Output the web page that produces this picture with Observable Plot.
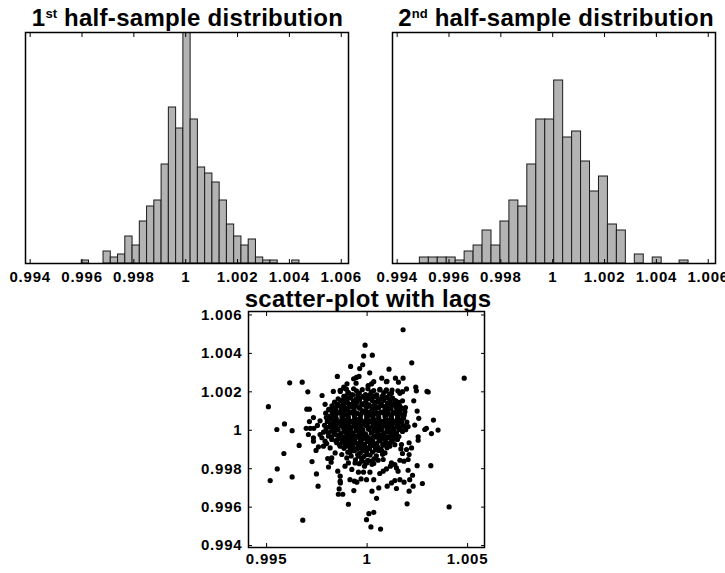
<!DOCTYPE html>
<html><head><meta charset="utf-8">
<script src="https://cdn.jsdelivr.net/npm/d3@7"></script>
<script src="https://cdn.jsdelivr.net/npm/@observablehq/plot@0.6"></script>
<style>
html,body{margin:0;padding:0;background:#fff;overflow:hidden;}
#chart{position:relative;width:725px;height:573px;font-family:"Liberation Sans",Arial,sans-serif;}
.panel{position:absolute;}
.panel svg{max-width:none !important;overflow:visible;background:transparent !important;}
.title{position:absolute;font-weight:bold;font-size:24px;line-height:24px;letter-spacing:0.3px;text-align:center;white-space:nowrap;color:#000;}
.title sup{font-size:13px;line-height:0;vertical-align:8px;letter-spacing:0;}
</style></head><body><div id="chart"></div>
<script>
// ---- data ----
const histTicks = [0.994, 0.996, 0.998, 1, 1.002, 1.004, 1.006];
const histTickLabels = ["0.994", "0.996", "0.998", "1", "1.002", "1.004", "1.006"];
const scatterXTicks = [0.995, 1, 1.005];
const scatterXTickLabels = ["0.995", "1", "1.005"];
const scatterYTicks = [0.994, 0.996, 0.998, 1, 1.002, 1.004, 1.006];
const scatterYTickLabels = ["0.994", "0.996", "0.998", "1", "1.002", "1.004", "1.006"];

const firstHalfStart = 0.99599, firstHalfBinWidth = 0.00028;
const firstHalfCounts = [1,0,0,4,2,3,9,6,14,19,21,33,52,45,88,48,32,30,27,21,13,9,6,8,2,1,1,0,0,1];
const secondHalfStart = 0.994875, secondHalfBinWidth = 0.0003455;
const secondHalfCounts = [2,2,2,2,1,4,6,11,6,14,21,19,33,48,48,61,42,44,34,24,29,13,11,0,3,0,2,0,0,1];

// scatter: [x_t, x_{t+1}] pairs away from the dense core
const lagOuter = [
[0.99990,1.00443],[1.00179,1.00523],[1.00222,1.00351],[0.99983,1.00386],[1.00026,1.00391],[1.00109,1.00318],
[0.99918,1.00332],[0.99963,1.00321],[0.99978,1.00341],[1.00013,1.00299],[1.00073,1.00271],[1.00141,1.00271],
[1.00179,1.00271],[1.00099,1.00255],[0.99960,1.00280],[0.99933,1.00268],[0.99947,1.00275],[0.99900,1.00242],
[0.99884,1.00224],[1.00242,1.00224],[1.00298,1.00202],[0.99852,1.00280],[0.99615,1.00247],[0.99677,1.00250],
[0.99705,1.00200],[0.99509,1.00123],[0.99776,1.00181],[0.99832,1.00202],[0.99700,1.00110],[0.99713,1.00110],
[0.99589,1.00033],[0.99551,1.00004],[0.99627,0.99998],[0.99697,1.00010],[0.99717,1.00010],[0.99735,1.00010],
[0.99753,1.00025],[0.99713,1.00045],[0.99766,1.00049],[0.99733,1.00066],[0.99794,1.00089],[0.99809,1.00109],
[0.99791,1.00135],[0.99844,1.00101],[0.99828,1.00118],[0.99879,1.00153],[0.99896,1.00179],[0.99907,1.00195],
[0.99933,1.00216],[0.99945,1.00245],[0.99887,1.00219],[0.99923,1.00184],[0.99867,1.00202],
[1.00483,1.00271],[1.00096,1.00253],[1.00156,1.00250],[1.00033,1.00253],[1.00022,1.00241],[1.00005,1.00232],
[1.00245,1.00205],[1.00304,1.00199],[1.00196,1.00215],[1.00176,1.00201],[1.00163,1.00192],[1.00153,1.00205],
[1.00096,1.00210],[1.00121,1.00192],[1.00063,1.00210],[1.00047,1.00184],[1.00232,1.00153],[1.00176,1.00153],
[1.00154,1.00140],[1.00163,1.00123],[1.00121,1.00163],[1.00130,1.00132],[1.00096,1.00114],[1.00191,1.00118],
[1.00188,1.00097],[1.00249,1.00100],[1.00257,1.00062],[1.00330,1.00053],[1.00185,1.00080],[1.00152,1.00062],
[1.00119,1.00045],[1.00295,1.00010],[1.00353,1.00001],[1.00237,1.00027],[1.00204,1.00019],[1.00163,1.00010],
[1.00408,0.99601],[1.00067,0.99486],[1.00019,0.99497],[1.00033,0.99573],[1.00009,0.99566],[0.99997,0.99535],
[1.00199,0.99617],[1.00047,0.99646],[1.00024,0.99683],[1.00058,0.99700],[1.00033,0.99743],[1.00100,0.99709],
[1.00121,0.99726],[1.00146,0.99697],[1.00138,0.99738],[1.00163,0.99743],[1.00209,0.99683],[1.00229,0.99709],
[1.00275,0.99723],[1.00184,0.99730],[1.00212,0.99743],[1.00204,0.99792],[1.00226,0.99766],[1.00249,0.99816],
[1.00317,0.99816],[1.00063,0.99775],[1.00080,0.99787],[1.00096,0.99799],[1.00116,0.99813],[1.00154,0.99787],
[1.00146,0.99804],[1.00138,0.99822],[1.00121,0.99830],[1.00014,0.99782],[0.99997,0.99743],[1.00033,0.99827],
[1.00022,0.99839],[1.00055,0.99844],[1.00080,0.99848],[1.00163,0.99844],[1.00183,0.99839],[1.00204,0.99848],
[1.00209,0.99874],[1.00176,0.99879],[1.00168,0.99903],[1.00254,0.99966],[1.00254,0.99948],[1.00287,1.00004],
[1.00320,0.99983],[1.00209,0.99935],[1.00171,0.99926],[1.00196,0.99900],[1.00221,0.99908],
[0.99662,0.99921],[0.99586,0.99879],[0.99553,0.99799],[0.99518,0.99738],[0.99627,0.99757],[0.99680,0.99532],
[0.99726,0.99837],[0.99748,0.99773],[0.99756,0.99709],[0.99808,0.99809],[0.99854,0.99787],[0.99821,0.99834],
[0.99804,0.99853],[0.99824,0.99856],[0.99866,0.99761],[0.99866,0.99735],[0.99867,0.99726],[0.99861,0.99695],
[0.99857,0.99667],[0.99879,0.99667],[0.99907,0.99615],[0.99934,0.99686],[0.99915,0.99743],[0.99937,0.99735],
[0.99949,0.99730],[0.99970,0.99747],[0.99890,0.99813],[0.99924,0.99796],[0.99957,0.99782],[0.99982,0.99782],
[0.99907,0.99830],[0.99940,0.99830],[0.99746,0.99895],[0.99758,0.99914],[0.99783,0.99917],[0.99799,0.99931],
[0.99816,0.99908],[0.99841,0.99882],[0.99874,0.99874],[0.99899,0.99856],[0.99915,0.99886],
[0.99708,0.99978],[0.99733,0.99961],[0.99733,0.99943],[0.99766,0.99978],[0.99783,0.99990],[0.99775,0.99961],
[0.99808,0.99969],[0.99791,0.99943],[0.99824,0.99952],[0.99841,0.99978],[0.99849,0.99935],[0.99866,0.99917],
[0.99882,0.99952],[0.99891,0.99926],[0.99866,0.99969],[0.99907,0.99987],[0.99927,0.99961],[0.99940,0.99935],
[0.99965,0.99908],[0.99957,0.99865],[0.99973,0.99839],[0.99987,0.99813],[0.99998,0.99830],[0.99998,0.99874],
[0.99982,0.99900],[0.99973,0.99952]
];

// scatter: dense core, row by row (x_t values and matching x_{t+1} values)
const lagCoreX = [
[0.99905,0.99928,0.99961,0.99992,1.00021,1.00049,1.00083,1.00112],
[0.99889,0.99953,0.99985,1.00015,1.00044,1.00077],
[0.99856,0.99884,0.99917,0.99945,0.99979,1.00006,1.00035,1.00068,1.00098,1.00127],
[0.99871,0.99901,0.99932,0.99963,0.99994,1.00022,1.00054,1.00085,1.00113,1.00141],
[0.99838,0.99869,0.99903,0.99934,0.99962,0.99995,1.00026,1.00052,1.00083,1.00117,1.00146],
[0.99855,0.99887,0.99918,0.99949,0.99979,1.00009,1.00041,1.00069,1.00101,1.00132,1.00159],
[0.99825,0.99852,0.99887,0.99916,0.99948,0.99979,1.00011,1.00039,1.00071,1.00102,1.00131,1.00163],
[0.99838,0.99868,0.99902,0.99931,0.99964,0.99994,1.00026,1.00055,1.00087,1.00117,1.00146],
[0.99812,0.99841,0.99872,0.99903,0.99935,0.99963,0.99994,1.00025,1.00057,1.00088,1.00119,1.00147,1.00176],
[0.99827,0.99857,0.99888,0.99919,0.99949,0.99979,1.00011,1.00041,1.00072,1.00103,1.00133,1.00161],
[0.99829,0.99858,0.99889,0.99921,0.99952,0.99981,1.00013,1.00042,1.00073,1.00104,1.00136,1.00165],
[0.99815,0.99843,0.99874,0.99905,0.99937,0.99967,0.99997,1.00028,1.00057,1.00089,1.00119,1.00151,1.00178],
[0.99797,0.99823,0.99846,0.99875,0.99906,0.99937,0.99966,0.99998,1.00029,1.00058,1.00089,1.00121,1.00152,1.00181],
[0.99819,0.99847,0.99877,0.99908,0.99938,0.99969,1.00001,1.00031,1.00061,1.00092,1.00123,1.00153],
[0.99802,0.99833,0.99861,0.99892,0.99922,0.99954,0.99983,1.00014,1.00045,1.00076,1.00107,1.00138,1.00167,1.00198],
[0.99833,0.99863,0.99894,0.99925,0.99955,0.99986,1.00017,1.00047,1.00078,1.00109,1.00139,1.00171],
[0.99788,0.99818,0.99847,0.99878,0.99909,0.99941,0.99969,1.00001,1.00032,1.00062,1.00093,1.00124,1.00155,1.00186],
[0.99811,0.99841,0.99871,0.99902,0.99932,0.99964,0.99994,1.00025,1.00056,1.00087,1.00117,1.00148,1.00178],
[0.99796,0.99826,0.99856,0.99886,0.99917,0.99948,0.99979,1.00009,1.00041,1.00071,1.00102,1.00133,1.00164,1.00192],
[0.99822,0.99853,0.99884,0.99915,0.99946,0.99977,1.00008,1.00039,1.00069,1.00099,1.00131,1.00162],
[0.99807,0.99838,0.99869,0.99899,0.99931,0.99962,0.99992,1.00023,1.00055,1.00084,1.00115,1.00147,1.00176],
[0.99837,0.99867,0.99898,0.99928,0.99959,0.99991,1.00021,1.00052,1.00083,1.00113,1.00142],
[0.99823,0.99852,0.99882,0.99913,0.99944,0.99975,1.00006,1.00037,1.00068,1.00099,1.00128,1.00158],
[0.99859,0.99889,0.99921,0.99951,0.99982,1.00013,1.00044,1.00075,1.00106,1.00136],
[0.99844,0.99875,0.99906,0.99936,0.99967,0.99998,1.00028,1.00059,1.00091,1.00122,1.00151],
[0.99877,0.99908,0.99939,0.99969,1.00001,1.00031,1.00062,1.00093,1.00123],
[0.99862,0.99893,0.99924,0.99955,0.99985,1.00016,1.00047,1.00078,1.00109,1.00138],
[0.99898,0.99929,0.99961,0.99991,1.00022,1.00053,1.00084,1.00113],
[0.99885,0.99914,0.99946,0.99976,1.00007,1.00038,1.00069,1.00099],
[0.99918,0.99949,0.99981,1.00012,1.00042,1.00073],
[0.99904,0.99935,0.99966,0.99997,1.00027,1.00058,1.00089],
[0.99921,0.99953,0.99984,1.00015,1.00046,1.00077],
[0.99942,0.99973,1.00004,1.00035],
[0.99961,0.99993,1.00024],
[0.99866,0.99897,0.99947,0.99976,1.00004,1.00033,1.00064,1.00093,1.00124],
[0.99851,0.99879,0.99912,0.99942,0.99973,1.00002,1.00035,1.00066,1.00095,1.00126,1.00154],
[0.99846,0.99880,0.99910,0.99941,0.99972,1.00004,1.00034,1.00064,1.00095,1.00127,1.00157],
[0.99840,0.99869,0.99900,0.99931,0.99962,0.99993,1.00024,1.00054,1.00085,1.00116,1.00146,1.00171],
[0.99852,0.99884,0.99914,0.99945,0.99976,1.00006,1.00037,1.00068,1.00099,1.00129,1.00158],
[0.99874,0.99905,0.99936,0.99967,0.99998,1.00029,1.00060,1.00090,1.00121],
[0.99894,0.99925,0.99955,0.99986,1.00017,1.00048,1.00079,1.00108]
];
const lagCoreY = [
[1.00197,1.00184,1.00193,1.00186,1.00199,1.00181,1.00195,1.00188],
[1.00175,1.00183,1.00172,1.00186,1.00174,1.00179],
[1.00164,1.00176,1.00168,1.00162,1.00175,1.00166,1.00178,1.00163,1.00171,1.00167],
[1.00155,1.00163,1.00152,1.00166,1.00157,1.00161,1.00153,1.00165,1.00158,1.00154],
[1.00146,1.00155,1.00143,1.00151,1.00158,1.00144,1.00153,1.00147,1.00156,1.00142,1.00149],
[1.00136,1.00143,1.00134,1.00146,1.00138,1.00132,1.00144,1.00137,1.00141,1.00133,1.00145],
[1.00127,1.00134,1.00122,1.00131,1.00125,1.00136,1.00128,1.00121,1.00133,1.00126,1.00135,1.00124],
[1.00116,1.00124,1.00113,1.00121,1.00117,1.00125,1.00112,1.00119,1.00123,1.00114,1.00121],
[1.00106,1.00114,1.00103,1.00111,1.00107,1.00115,1.00102,1.00109,1.00116,1.00104,1.00112,1.00106,1.00113],
[1.00098,1.00091,1.00102,1.00095,1.00089,1.00101,1.00094,1.00097,1.00093,1.00104,1.00090,1.00099],
[1.00086,1.00094,1.00083,1.00091,1.00087,1.00095,1.00082,1.00089,1.00093,1.00085,1.00092,1.00087],
[1.00074,1.00079,1.00085,1.00072,1.00081,1.00077,1.00084,1.00071,1.00078,1.00083,1.00075,1.00082,1.00076],
[1.00066,1.00074,1.00063,1.00071,1.00067,1.00075,1.00062,1.00069,1.00073,1.00065,1.00072,1.00067,1.00074,1.00063],
[1.00058,1.00052,1.00064,1.00055,1.00061,1.00053,1.00066,1.00057,1.00051,1.00063,1.00056,1.00059],
[1.00046,1.00054,1.00043,1.00051,1.00047,1.00055,1.00042,1.00049,1.00053,1.00045,1.00052,1.00047,1.00054,1.00043],
[1.00035,1.00041,1.00033,1.00044,1.00038,1.00032,1.00045,1.00036,1.00042,1.00034,1.00039,1.00043],
[1.00026,1.00034,1.00023,1.00031,1.00027,1.00035,1.00022,1.00029,1.00033,1.00025,1.00032,1.00027,1.00034,1.00023],
[1.00018,1.00012,1.00024,1.00015,1.00021,1.00013,1.00025,1.00017,1.00011,1.00023,1.00016,1.00019,1.00022],
[1.00006,1.00014,1.00003,1.00011,1.00007,1.00015,1.00002,1.00009,1.00013,1.00005,1.00012,1.00007,1.00014,1.00003],
[0.99995,1.00003,0.99992,1.00004,0.99998,0.99991,1.00005,0.99996,1.00002,0.99993,0.99999,1.00004],
[0.99986,0.99994,0.99983,0.99991,0.99987,0.99995,0.99982,0.99989,0.99993,0.99985,0.99992,0.99987,0.99994],
[0.99977,0.99971,0.99983,0.99974,0.99979,0.99972,0.99985,0.99976,0.99981,0.99973,0.99978],
[0.99966,0.99974,0.99963,0.99971,0.99967,0.99975,0.99962,0.99969,0.99973,0.99965,0.99972,0.99967],
[0.99955,0.99961,0.99953,0.99964,0.99958,0.99952,0.99965,0.99956,0.99962,0.99954],
[0.99946,0.99954,0.99943,0.99951,0.99947,0.99955,0.99942,0.99949,0.99953,0.99945,0.99952],
[0.99938,0.99932,0.99944,0.99935,0.99941,0.99933,0.99945,0.99937,0.99942],
[0.99926,0.99934,0.99923,0.99931,0.99927,0.99935,0.99922,0.99929,0.99933,0.99925],
[0.99918,0.99912,0.99924,0.99915,0.99921,0.99913,0.99925,0.99917],
[0.99906,0.99914,0.99903,0.99911,0.99907,0.99915,0.99902,0.99909],
[0.99895,0.99902,0.99893,0.99904,0.99898,0.99892],
[0.99886,0.99894,0.99883,0.99891,0.99887,0.99895,0.99882],
[0.99866,0.99874,0.99863,0.99871,0.99867,0.99875],
[0.99846,0.99854,0.99843,0.99851],
[0.99826,0.99834,0.99823],
[1.00208,1.00214,1.00205,1.00211,1.00216,1.00207,1.00213,1.00204,1.00209],
[1.00126,1.00131,1.00122,1.00129,1.00135,1.00124,1.00130,1.00127,1.00121,1.00133,1.00128],
[1.00087,1.00081,1.00090,1.00084,1.00088,1.00079,1.00086,1.00091,1.00083,1.00089,1.00082],
[1.00045,1.00049,1.00041,1.00047,1.00044,1.00050,1.00042,1.00048,1.00046,1.00040,1.00049,1.00044],
[1.00005,1.00009,1.00001,1.00007,1.00004,1.00010,1.00002,1.00008,1.00006,1.00000,1.00009],
[0.99966,0.99961,0.99969,0.99963,0.99968,0.99960,0.99967,0.99964,0.99969],
[0.99925,0.99929,0.99921,0.99927,0.99924,0.99930,0.99922,0.99928]
];

// ---- build ----
const chart = document.getElementById("chart");
const fontFamily = '"Liberation Sans", Arial, Helvetica, sans-serif';
const labelOf = (ticks, labels) => d => labels[ticks.indexOf(d)];
const axisStyle = {fontFamily, fontSize: "15px", fontWeight: "bold", letterSpacing: "0.8px", background: "transparent", color: "#000"};

function histogram(counts, start, binWidth, width, marginLeft, marginRight) {
  const bins = counts.map((c, i) => ({x1: start + i * binWidth, x2: start + (i + 1) * binWidth, count: c})).filter(d => d.count > 0);
  return Plot.plot({
    width, height: 290, marginLeft, marginRight, marginTop: 32, marginBottom: 27,
    style: axisStyle,
    x: {domain: [0.99382, 1.00628], label: null},
    y: {domain: [0, 77], axis: null},
    marks: [
      Plot.rectY(bins, {x1: "x1", x2: "x2", y: "count", fill: "#b3b3b3", stroke: "#1a1a1a", strokeWidth: 1, clip: true}),
      Plot.axisX(histTicks, {anchor: "bottom", tickSize: -4, tickPadding: 12, tickFormat: labelOf(histTicks, histTickLabels), label: null, stroke: "#000"}),
      Plot.axisX(histTicks, {anchor: "top", tickSize: -4, tickFormat: () => "", label: null, stroke: "#000"}),
      Plot.frame({stroke: "#000", strokeWidth: 1.5})
    ]
  });
}

function place(node, left, top) {
  const div = document.createElement("div");
  div.className = "panel";
  div.style.left = left + "px";
  div.style.top = top + "px";
  div.appendChild(node);
  chart.appendChild(div);
}

place(histogram(firstHalfCounts, firstHalfStart, firstHalfBinWidth, 365, 25, 17), 0, 0);
place(histogram(secondHalfCounts, secondHalfStart, secondHalfBinWidth, 358, 25, 10), 367, 0);

const lagPoints = lagOuter.map(([x, y]) => ({x, y}))
  .concat(lagCoreX.flatMap((xs, r) => xs.map((x, i) => ({x, y: lagCoreY[r][i]}))));

const scatter = Plot.plot({
  width: 310, height: 283, marginLeft: 58, marginRight: 16, marginTop: 21, marginBottom: 26,
  style: axisStyle,
  x: {domain: [0.99410, 1.00584], label: null},
  y: {domain: [0.99390, 1.00618], label: null},
  marks: [
    Plot.dot(lagPoints, {x: "x", y: "y", r: 2.6, fill: "#000", stroke: "none", clip: true}),
    Plot.axisX(scatterXTicks, {anchor: "bottom", tickSize: -4, tickPadding: 10, tickFormat: labelOf(scatterXTicks, scatterXTickLabels), label: null}),
    Plot.axisX(scatterXTicks, {anchor: "top", tickSize: -4, tickFormat: () => "", label: null}),
    Plot.axisY(scatterYTicks, {anchor: "left", tickSize: -4, tickPadding: 10, tickFormat: labelOf(scatterYTicks, scatterYTickLabels), label: null}),
    Plot.axisY(scatterYTicks, {anchor: "right", tickSize: -4, tickFormat: () => "", label: null}),
    Plot.frame({stroke: "#000", strokeWidth: 1.5})
  ]
});
place(scatter, 190, 290);

function title(html, center, top) {
  const div = document.createElement("div");
  div.className = "title";
  div.style.left = (center - 200) + "px";
  div.style.width = "400px";
  div.style.top = top + "px";
  div.innerHTML = html;
  chart.appendChild(div);
}
title("1<sup>st</sup> half-sample distribution", 187.5, 6);
title("2<sup>nd</sup> half-sample distribution", 556, 6);
title("scatter-plot with lags", 368, 287);
</script></body></html>
